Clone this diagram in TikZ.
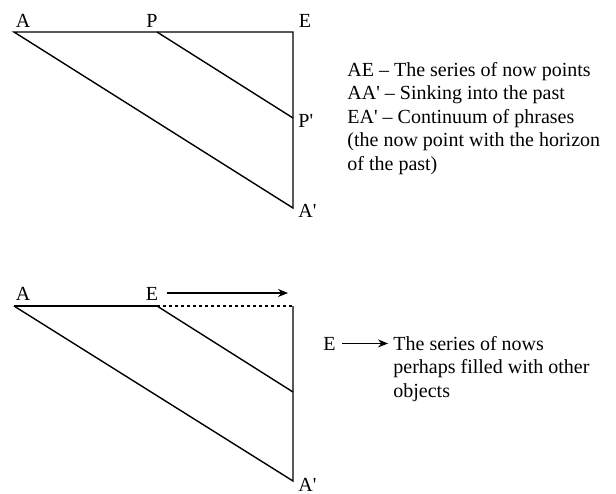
\documentclass[tikz,border=0pt]{standalone}
\usepackage{fontspec}
\setmainfont{Liberation Serif}
\usetikzlibrary{arrows.meta, positioning}
\newcommand{\pr}{\textquotesingle}
\tikzset{
  edge/.style={line width=0.7pt, color=black},
  dotedge/.style={line width=0.7pt, color=black, dash pattern=on 1.6pt off 1.4pt},
  arrow/.style={-{Stealth[length=5pt, width=4pt]}, line width=0.6pt, color=black},
  ptlabel/.style={font=\fontsize{10}{12}\selectfont, inner sep=0pt},
  legend/.style={font=\fontsize{10}{11.75}\selectfont, align=left, inner sep=0pt}
}
\begin{document}
\begin{tikzpicture}[x=0.5pt, y=-0.5pt]
  \useasboundingbox (0,0) rectangle (616,493);

  % upper figure
  \coordinate (A1) at (14,32);
  \coordinate (P1) at (157,32);
  \coordinate (E1) at (293,32);
  \coordinate (Pp1) at (293,118);
  \coordinate (Ap1) at (293,208);
  \draw[edge] (A1) -- (E1) -- (Ap1) -- cycle;
  \draw[edge] (P1) -- (Pp1);

  \node[ptlabel, anchor=base] (lblA1) at (23,27) {A};
  \node[ptlabel, anchor=base] (lblP1) at (152,27) {P};
  \node[ptlabel, anchor=base] (lblE1) at (305,27) {E};
  \node[ptlabel, anchor=base west] (lblPp1) at (298,127) {P\pr};
  \node[ptlabel, anchor=base west] (lblAp1) at (298,217) {A\pr};

  \node[legend, anchor=north west] (key1) at (347,62)
    {AE -- The series of now points\\
     AA\pr\ -- Sinking into the past\\
     EA\pr\ -- Continuum of phrases\\
     (the now point with the horizon\\
     of the past)};

  % lower figure
  \coordinate (A2) at (14,306);
  \coordinate (E2) at (157,306);
  \coordinate (C2) at (293,306);
  \coordinate (M2) at (293,392);
  \coordinate (Ap2) at (293,481);
  \draw[edge] (A2) -- (E2);
  \draw[dotedge] (E2) -- (C2);
  \draw[edge] (C2) -- (Ap2) -- (A2);
  \draw[edge] (E2) -- (M2);

  \node[ptlabel, anchor=base] (lblA2) at (23,300) {A};
  \node[ptlabel, anchor=base] (lblE2) at (152,300) {E};
  \node[ptlabel, anchor=base west] (lblAp2) at (298,491) {A\pr};
  \coordinate (nowend) at (288,293);
  \draw[arrow] ([xshift=4pt]lblE2.east |- nowend) -- (nowend);

  \node[ptlabel, anchor=base west] (keyE) at (323,350) {E};
  \node[legend, anchor=north west] (key2) at (393,336)
    {The series of nows\\
     perhaps filled with other\\
     objects};
  \coordinate (keytip) at (388,0);
  \draw[arrow] ([xshift=3pt]keyE.east) -- (keytip |- keyE.east);
\end{tikzpicture}
\end{document}
